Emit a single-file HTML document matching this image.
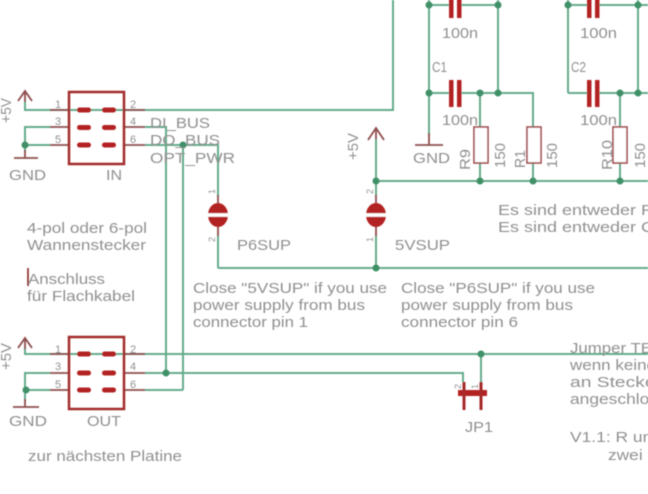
<!DOCTYPE html>
<html><head><meta charset="utf-8"><style>
html,body{margin:0;padding:0;background:#fff;}
svg{display:block;}
text{font-family:"Liberation Sans",Arial,sans-serif;fill:#909090;font-size:15px;}
.s{font-size:11px;}
.t{font-size:9px;}
</style></head><body>
<svg width="648" height="494" viewBox="0 0 648 494" xmlns="http://www.w3.org/2000/svg">
<defs><filter id="b" x="-5%" y="-5%" width="110%" height="110%"><feGaussianBlur stdDeviation="0.55"/></filter></defs>
<rect width="648" height="494" fill="#fff"/>
<g filter="url(#b)">
<!-- wires -->
<g fill="none" stroke="#64aa8c" stroke-width="2">
 <polyline points="25,101 25,110 393,110 393,0"/>
 <polyline points="50,127 25,127 25,152"/>
 <line x1="25" y1="145" x2="50" y2="145"/>
 <polyline points="145,127 166,127 166,373"/>
 <polyline points="145,145 218,145 218,196"/>
 <line x1="183" y1="145" x2="183" y2="390"/>
 <line x1="145" y1="390" x2="183" y2="390"/>
 <polyline points="25,348 25,354 648,354"/>
 <polyline points="50,373 25,373 25,401"/>
 <polyline points="145,373 463,373 463,382"/>
 <line x1="25" y1="390" x2="50" y2="390"/>
 <line x1="481" y1="354" x2="481" y2="382"/>
 <line x1="218" y1="235" x2="218" y2="268"/>
 <line x1="218" y1="268" x2="648" y2="268"/>
 <line x1="376" y1="138" x2="376" y2="196"/>
 <line x1="376" y1="235" x2="376" y2="268"/>
 <line x1="376" y1="181" x2="648" y2="181"/>
 <line x1="429" y1="5" x2="450" y2="5"/>
 <line x1="460" y1="5" x2="498" y2="5"/>
 <line x1="429" y1="0" x2="429" y2="135"/>
 <line x1="498" y1="0" x2="498" y2="93"/>
 <line x1="429" y1="93" x2="450" y2="93"/>
 <polyline points="460,93 533,93 533,127"/>
 <line x1="480" y1="93" x2="480" y2="127"/>
 <line x1="480" y1="163" x2="480" y2="181"/>
 <line x1="533" y1="163" x2="533" y2="181"/>
 <line x1="568" y1="5" x2="588" y2="5"/>
 <line x1="598" y1="5" x2="648" y2="5"/>
 <line x1="568" y1="0" x2="568" y2="93"/>
 <line x1="638" y1="0" x2="638" y2="93"/>
 <line x1="568" y1="93" x2="588" y2="93"/>
 <line x1="598" y1="93" x2="648" y2="93"/>
 <line x1="620" y1="93" x2="620" y2="127"/>
 <line x1="620" y1="163" x2="620" y2="181"/>
</g>
<!-- supply / gnd / pin lines -->
<g fill="none" stroke="#8e4e4e" stroke-width="1.8">
 <polyline points="18,101 25,91 32,101"/><line x1="25" y1="91" x2="25" y2="102"/>
 <polyline points="18,348 25,338 32,348"/><line x1="25" y1="338" x2="25" y2="349"/>
 <polyline points="368,140 376,128 384,140"/><line x1="376" y1="128" x2="376" y2="139"/>
 <line x1="25" y1="150" x2="25" y2="158"/><line x1="14" y1="158" x2="38" y2="158"/>
 <line x1="25" y1="399" x2="25" y2="407"/><line x1="13" y1="407" x2="39" y2="407"/>
 <line x1="429" y1="133" x2="429" y2="145"/><line x1="415" y1="145" x2="443" y2="145"/>
 <line x1="50" y1="110" x2="69" y2="110"/><line x1="50" y1="127" x2="69" y2="127"/><line x1="50" y1="145" x2="69" y2="145"/>
 <line x1="124" y1="110" x2="145" y2="110"/><line x1="124" y1="127" x2="145" y2="127"/><line x1="124" y1="145" x2="145" y2="145"/>
 <line x1="50" y1="354" x2="69" y2="354"/><line x1="50" y1="373" x2="69" y2="373"/><line x1="50" y1="390" x2="69" y2="390"/>
 <line x1="124" y1="354" x2="145" y2="354"/><line x1="124" y1="373" x2="145" y2="373"/><line x1="124" y1="390" x2="145" y2="390"/>
 <line x1="218" y1="195" x2="218" y2="204"/><line x1="218" y1="226" x2="218" y2="236"/>
 <line x1="376" y1="195" x2="376" y2="204"/><line x1="376" y1="226" x2="376" y2="236"/>
</g>
<!-- connectors -->
<g fill="none" stroke="#a32a2a" stroke-width="2.5">
 <rect x="69" y="92" width="55" height="72"/>
 <rect x="69" y="337" width="55" height="72"/>
</g>
<g fill="#b32020">
 <rect x="77" y="107.5" width="14" height="5" rx="2.5"/><rect x="102" y="107.5" width="14" height="5" rx="2.5"/>
 <rect x="77" y="125" width="14" height="5" rx="2.5"/><rect x="102" y="125" width="14" height="5" rx="2.5"/>
 <rect x="77" y="142.5" width="14" height="5" rx="2.5"/><rect x="102" y="142.5" width="14" height="5" rx="2.5"/>
 <rect x="77" y="351.5" width="14" height="5" rx="2.5"/><rect x="102" y="351.5" width="14" height="5" rx="2.5"/>
 <rect x="77" y="370.5" width="14" height="5" rx="2.5"/><rect x="102" y="370.5" width="14" height="5" rx="2.5"/>
 <rect x="77" y="387.5" width="14" height="5" rx="2.5"/><rect x="102" y="387.5" width="14" height="5" rx="2.5"/>
 <rect x="449" y="-8" width="4.5" height="26"/><rect x="457" y="-8" width="4.5" height="26"/>
 <rect x="449" y="80" width="4.5" height="27"/><rect x="457" y="80" width="4.5" height="27"/>
 <rect x="587" y="-8" width="4.5" height="26"/><rect x="595" y="-8" width="4.5" height="26"/>
 <rect x="587" y="80" width="4.5" height="27"/><rect x="595" y="80" width="4.5" height="27"/>
 <ellipse cx="218" cy="215" rx="10" ry="12"/>
 <ellipse cx="376" cy="215" rx="10" ry="12"/>
 <rect x="458" y="390" width="29" height="6"/>
</g>
<rect x="206" y="213.2" width="24" height="3.6" fill="#fff"/>
<rect x="364" y="213.2" width="24" height="3.6" fill="#fff"/>
<g stroke="#a52a2a" stroke-width="3">
 <line x1="464" y1="382" x2="464" y2="410"/><line x1="481" y1="382" x2="481" y2="410"/>
</g>
<!-- resistors -->
<g fill="#fff" stroke="#a04848" stroke-width="1.6">
 <rect x="474" y="127" width="14" height="36"/>
 <rect x="527" y="127" width="14" height="36"/>
 <rect x="613" y="127" width="14" height="36"/>
</g>
<line x1="28" y1="268" x2="28" y2="286" stroke="#8b2020" stroke-width="1.6"/>
<!-- junctions -->
<g fill="#3f9068">
 <circle cx="25" cy="145" r="3.5"/><circle cx="183" cy="145" r="3.5"/>
 <circle cx="166" cy="373" r="3.5"/><circle cx="26" cy="390" r="3.5"/>
 <circle cx="481" cy="354" r="3.5"/>
 <circle cx="376" cy="181" r="3.5"/><circle cx="376" cy="268" r="3.5"/>
 <circle cx="480" cy="181" r="3.5"/><circle cx="533" cy="181" r="3.5"/><circle cx="620" cy="181" r="3.5"/>
 <circle cx="429" cy="5" r="3.5"/><circle cx="498" cy="5" r="3.5"/><circle cx="568" cy="5" r="3.5"/><circle cx="638" cy="5" r="3.5"/>
 <circle cx="429" cy="93" r="3.5"/><circle cx="480" cy="93" r="3.5"/><circle cx="498" cy="93" r="3.5"/>
 <circle cx="620" cy="93" r="3.5"/><circle cx="638" cy="93" r="3.5"/>
</g>
<!-- texts -->
<text transform="translate(11,123) rotate(-90)" font-size="14" textLength="25" lengthAdjust="spacingAndGlyphs">+5V</text>
<text transform="translate(11,370) rotate(-90)" font-size="14" textLength="27" lengthAdjust="spacingAndGlyphs">+5V</text>
<text transform="translate(358,160) rotate(-90)" font-size="14" textLength="27" lengthAdjust="spacingAndGlyphs">+5V</text>

<text class="s" x="55" y="108">1</text><text class="s" x="55" y="125">3</text><text class="s" x="55" y="143">5</text>
<text class="s" x="130" y="108">2</text><text class="s" x="130" y="125">4</text><text class="s" x="130" y="143">6</text>
<text class="s" x="55" y="353">1</text><text class="s" x="55" y="370">3</text><text class="s" x="55" y="388">5</text>
<text class="s" x="130" y="353">2</text><text class="s" x="130" y="370">4</text><text class="s" x="130" y="388">6</text>

<text x="9" y="180" textLength="37" lengthAdjust="spacingAndGlyphs">GND</text>
<text x="106" y="180" textLength="16" lengthAdjust="spacingAndGlyphs">IN</text>
<text x="9" y="426" textLength="38" lengthAdjust="spacingAndGlyphs">GND</text>
<text x="87" y="426" textLength="34" lengthAdjust="spacingAndGlyphs">OUT</text>

<text x="150" y="128" textLength="60" lengthAdjust="spacingAndGlyphs">DI_BUS</text>
<text x="150" y="145" textLength="70" lengthAdjust="spacingAndGlyphs">DO_BUS</text>
<text x="150" y="163" textLength="85" lengthAdjust="spacingAndGlyphs">OPT_PWR</text>

<text x="27" y="233" textLength="120" lengthAdjust="spacingAndGlyphs">4-pol oder 6-pol</text>
<text x="27" y="250" textLength="119" lengthAdjust="spacingAndGlyphs">Wannenstecker</text>
<text x="28" y="284" textLength="77" lengthAdjust="spacingAndGlyphs">Anschluss</text>
<text x="27" y="301" textLength="108" lengthAdjust="spacingAndGlyphs">für Flachkabel</text>
<text x="28" y="461" textLength="154" lengthAdjust="spacingAndGlyphs">zur nächsten Platine</text>

<text x="237" y="250" textLength="54" lengthAdjust="spacingAndGlyphs">P6SUP</text>
<text x="395" y="250" textLength="55" lengthAdjust="spacingAndGlyphs">5VSUP</text>
<text class="t" transform="translate(215,194) rotate(-90)">1</text>
<text class="t" transform="translate(215,242) rotate(-90)">2</text>
<text class="t" transform="translate(373,194) rotate(-90)">2</text>
<text class="t" transform="translate(373,242) rotate(-90)">1</text>

<text x="193" y="293" textLength="194" lengthAdjust="spacingAndGlyphs">Close "5VSUP" if you use</text>
<text x="193" y="310" textLength="172" lengthAdjust="spacingAndGlyphs">power supply from bus</text>
<text x="193" y="327" textLength="115" lengthAdjust="spacingAndGlyphs">connector pin 1</text>
<text x="401" y="293" textLength="194" lengthAdjust="spacingAndGlyphs">Close "P6SUP" if you use</text>
<text x="401" y="310" textLength="172" lengthAdjust="spacingAndGlyphs">power supply from bus</text>
<text x="401" y="327" textLength="117" lengthAdjust="spacingAndGlyphs">connector pin 6</text>

<text x="498" y="215" textLength="156" lengthAdjust="spacingAndGlyphs">Es sind entweder R</text>
<text x="498" y="232" textLength="156" lengthAdjust="spacingAndGlyphs">Es sind entweder C</text>

<text x="570" y="353" textLength="82" lengthAdjust="spacingAndGlyphs">Jumper TE</text>
<text x="570" y="370" textLength="86" lengthAdjust="spacingAndGlyphs">wenn keine</text>
<text x="570" y="387" textLength="92" lengthAdjust="spacingAndGlyphs">an Stecker</text>
<text x="570" y="404" textLength="116" lengthAdjust="spacingAndGlyphs">angeschlossen</text>
<text x="570" y="442" textLength="92" lengthAdjust="spacingAndGlyphs">V1.1: R und</text>
<text x="608" y="460" textLength="52" lengthAdjust="spacingAndGlyphs">zwei R</text>

<text x="465" y="432" textLength="28" lengthAdjust="spacingAndGlyphs">JP1</text>
<text class="t" transform="translate(461,389) rotate(-90)">2</text>
<text class="t" transform="translate(478,389) rotate(-90)">1</text>

<text x="442" y="38" textLength="36" lengthAdjust="spacingAndGlyphs">100n</text>
<text x="442" y="125" textLength="36" lengthAdjust="spacingAndGlyphs">100n</text>
<text x="580" y="38" textLength="37" lengthAdjust="spacingAndGlyphs">100n</text>
<text x="580" y="125" textLength="37" lengthAdjust="spacingAndGlyphs">100n</text>
<text x="432" y="72" textLength="15" lengthAdjust="spacingAndGlyphs">C1</text>
<text x="571" y="72" textLength="15" lengthAdjust="spacingAndGlyphs">C2</text>
<text x="413" y="163" textLength="37" lengthAdjust="spacingAndGlyphs">GND</text>

<text transform="translate(470,170) rotate(-90)" textLength="21" lengthAdjust="spacingAndGlyphs">R9</text>
<text transform="translate(505,168) rotate(-90)" textLength="25" lengthAdjust="spacingAndGlyphs">150</text>
<text transform="translate(525,168) rotate(-90)" textLength="18" lengthAdjust="spacingAndGlyphs">R1</text>
<text transform="translate(557,168) rotate(-90)" textLength="25" lengthAdjust="spacingAndGlyphs">150</text>
<text transform="translate(612,170) rotate(-90)" textLength="30" lengthAdjust="spacingAndGlyphs">R10</text>
<text transform="translate(645,168) rotate(-90)" textLength="25" lengthAdjust="spacingAndGlyphs">150</text>
</g>
</svg>
</body></html>
